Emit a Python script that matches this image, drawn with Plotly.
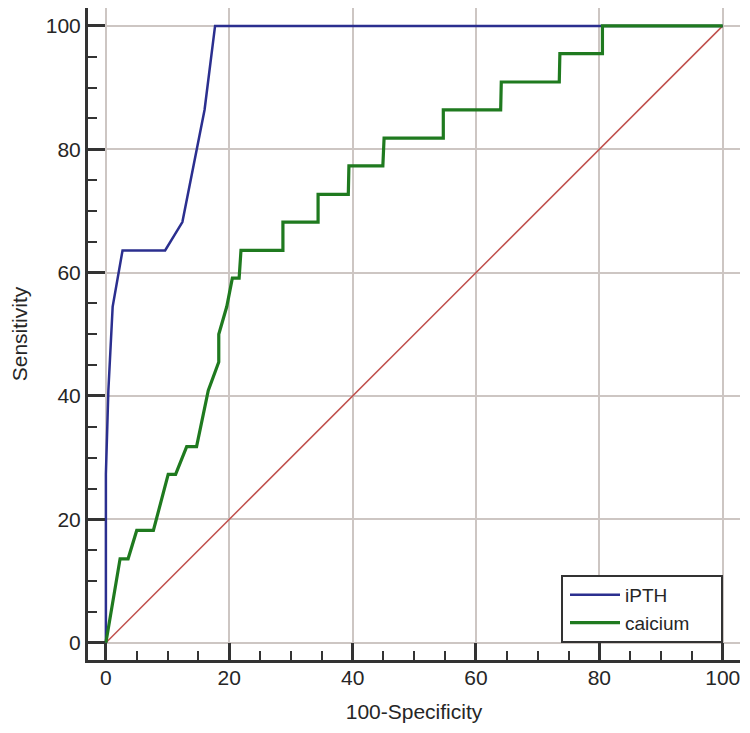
import plotly.graph_objects as go

# iPTH ROC curve
ipth_x = [0, 0, 0.4, 1.1, 2.7, 9.6, 12.4, 16.0, 17.7, 100]
ipth_y = [0, 27.3, 40.9, 54.5, 63.6, 63.6, 68.2, 86.4, 100, 100]

# calcium ROC curve
calc_x = [0, 2.3, 3.6, 5.0, 7.7, 10.1, 11.3, 13.1, 14.7, 16.6, 18.3, 18.3, 19.6,
          20.5, 21.6, 21.9, 28.7, 28.7, 34.4, 34.4, 39.3, 39.4, 44.9, 45.1,
          54.7, 54.7, 64.0, 64.1, 73.5, 73.6, 80.5, 80.5, 100]
calc_y = [0, 13.6, 13.6, 18.2, 18.2, 27.3, 27.3, 31.8, 31.8, 40.9, 45.5, 50.0, 54.5,
          59.1, 59.1, 63.6, 63.6, 68.2, 68.2, 72.7, 72.7, 77.3, 77.3, 81.8,
          81.8, 86.4, 86.4, 90.9, 90.9, 95.5, 95.5, 100, 100]

# reference diagonal
diag_x = [0, 100]
diag_y = [0, 100]

tick_vals = [0, 20, 40, 60, 80, 100]
tick_text = ["0", "20", "40", "60", "80", "100"]

TXT = "#262626"

fig = go.Figure()
fig.add_trace(go.Scatter(x=diag_x, y=diag_y, mode="lines",
                         line=dict(color="#c0504d", width=1.5), showlegend=False,
                         hoverinfo="skip"))
fig.add_trace(go.Scatter(x=ipth_x, y=ipth_y, mode="lines", name="iPTH",
                         line=dict(color="#2b2f8f", width=2.5)))
fig.add_trace(go.Scatter(x=calc_x, y=calc_y, mode="lines", name="caicium",
                         line=dict(color="#1f7a1f", width=3.2)))

axis_common = dict(
    showline=True, linecolor="#333333", linewidth=3,
    ticks="inside", ticklen=17, tickwidth=2.5, tickcolor="#333333",
    showgrid=True, gridcolor="#cdc6c3", gridwidth=2,
    zeroline=False, automargin=False,
    tickvals=tick_vals, ticktext=tick_text,
    tickfont=dict(size=21, color=TXT),
    minor=dict(dtick=5, tick0=0, ticks="inside", ticklen=9, tickwidth=2,
               tickcolor="#333333", showgrid=False),
)

fig.update_xaxes(range=[-2.9, 102.8], title=dict(text="100-Specificity",
                 font=dict(size=21, color=TXT), standoff=17),
                 ticklabelstandoff=-3, **axis_common)
fig.update_yaxes(range=[-2.8, 102.9], title=dict(text="Sensitivity",
                 font=dict(size=21, color=TXT), standoff=31),
                 ticklabelstandoff=0, **axis_common)

# legend frame (box behind the legend entries)
fig.add_shape(type="rect", xref="paper", yref="paper",
              x0=0.727, x1=0.9724, y0=0.0276, y1=0.1288,
              line=dict(color="#333333", width=2), fillcolor="white",
              layer="above")

fig.update_layout(
    width=750, height=733,
    margin=dict(l=80, r=18, t=0, b=81),
    plot_bgcolor="white", paper_bgcolor="white",
    font=dict(family="Liberation Sans, Arial, sans-serif", color=TXT),
    legend=dict(x=0.7316, y=0.0276, xanchor="left", yanchor="bottom",
                bgcolor="rgba(0,0,0,0)", borderwidth=0,
                font=dict(size=19, color=TXT),
                itemwidth=50,
                traceorder="normal"),
)

fig.write_html("out.html")
